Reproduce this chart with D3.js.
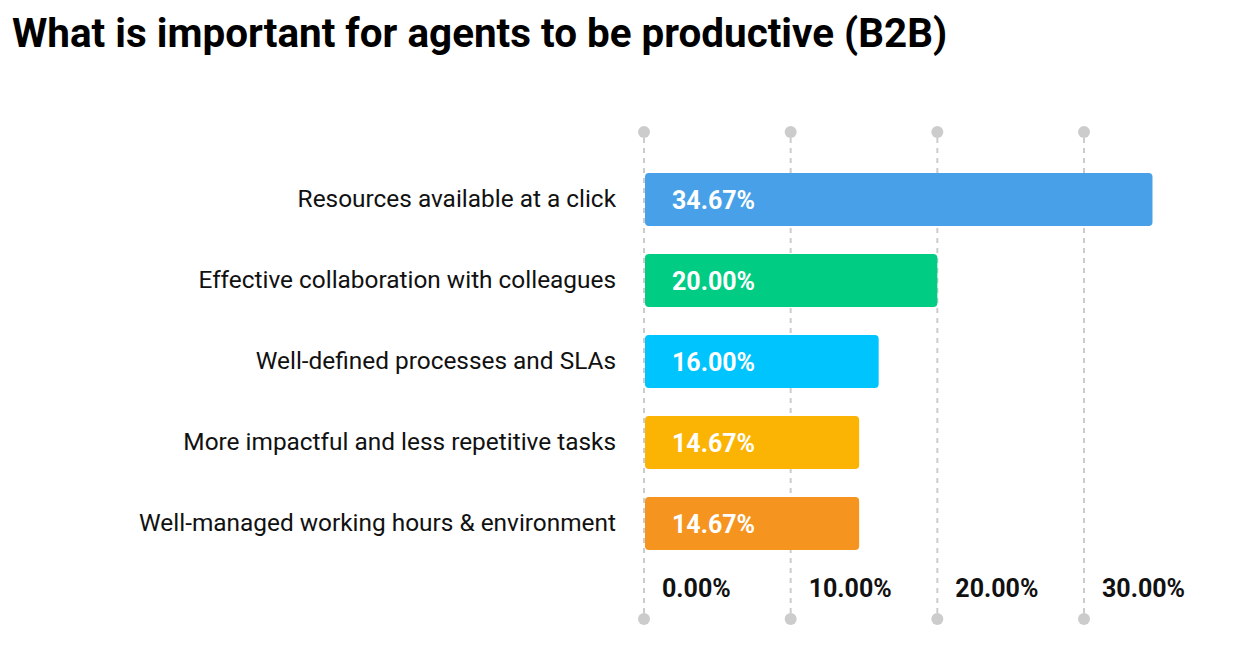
<!DOCTYPE html>
<html>
<head>
<meta charset="utf-8">
<script src="https://cdn.jsdelivr.net/npm/d3@7"></script>
<style>
  body { margin: 0; background: #fff; }
  text { font-family: Roboto, "Noto Sans", sans-serif; }
</style>
</head>
<body>
<svg id="chart" width="1258" height="651"></svg>
<script>
// data
const categories = [
  "Resources available at a click",
  "Effective collaboration with colleagues",
  "Well-defined processes and SLAs",
  "More impactful and less repetitive tasks",
  "Well-managed working hours & environment"
];
const values = [34.67, 20.00, 16.00, 14.67, 14.67];
const barColors = ["#48a1e8", "#00cc84", "#00c4fe", "#fbb404", "#f5951f"];
const tickValues = [0, 10, 20, 30];

const svg = d3.select("#chart");

// title
svg.append("text")
  .attr("x", 12)
  .attr("y", 47)
  .style("font-size", "40.4px")
  .style("font-weight", "bold")
  .attr("fill", "#000")
  .text("What is important for agents to be productive (B2B)");

let x = d3.scaleLinear().domain([0, 30]).range([644, 1084]);
let y = d3.scaleBand().domain(categories).range([159, 564]).paddingInner(0.346).paddingOuter(0.173);

// grid: dashed lines with dots at the ends
let grid = svg.append("g");
grid.selectAll("line")
  .data(tickValues)
  .enter().append("line")
    .attr("x1", d => x(d)).attr("x2", d => x(d))
    .attr("y1", 138).attr("y2", 614)
    .attr("stroke", "#cccccc")
    .attr("stroke-width", 2)
    .attr("stroke-dasharray", "5,5");
[132, 619].forEach(cy => {
  grid.selectAll(null)
    .data(tickValues)
    .enter().append("circle")
      .attr("cx", d => x(d))
      .attr("cy", cy)
      .attr("r", 6)
      .attr("fill", "#cccccc");
});

// tick labels
svg.append("g").selectAll("text")
  .data(tickValues)
  .enter().append("text")
    .attr("x", d => x(d) + 18)
    .attr("y", 597)
    .style("font-size", "25px")
    .style("font-weight", "bold")
    .attr("fill", "#111")
    .text(d => d3.format(".2f")(d) + "%");

// bars
svg.append("g").selectAll("rect")
  .data(values)
  .enter().append("rect")
    .attr("x", x(0) + 1)
    .attr("y", (d, i) => y(categories[i]))
    .attr("width", d => x(d) - x(0) - 1)
    .attr("height", y.bandwidth())
    .attr("rx", 4)
    .attr("fill", (d, i) => barColors[i]);

// value labels inside bars
svg.append("g").selectAll("text")
  .data(values)
  .enter().append("text")
    .attr("x", x(0) + 28)
    .attr("y", (d, i) => y(categories[i]) + y.bandwidth() / 2)
    .attr("dy", "0.36em")
    .style("font-size", "25px")
    .style("font-weight", "bold")
    .attr("fill", "#fff")
    .text(d => d3.format(".2f")(d) + "%");

// category labels
svg.append("g").selectAll("text")
  .data(categories)
  .enter().append("text")
    .attr("x", 616)
    .attr("y", d => y(d) + y.bandwidth() / 2)
    .attr("dy", "0.3em")
    .attr("text-anchor", "end")
    .style("font-size", "24.4px")
    .attr("fill", "#111")
    .text(d => d);
</script>
</body>
</html>
